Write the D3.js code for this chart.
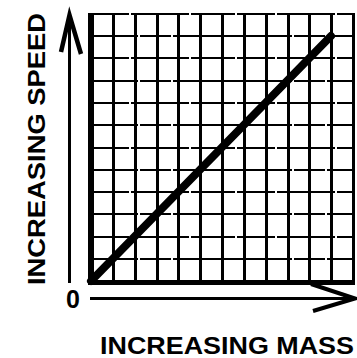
<!DOCTYPE html>
<html>
<head>
<meta charset="utf-8">
<script src="https://cdn.jsdelivr.net/npm/d3@7/dist/d3.min.js"></script>
<style>
  html, body { margin: 0; padding: 0; background: #fff; }
  svg { display: block; }
</style>
</head>
<body>
<svg id="chart" width="357" height="358"></svg>
<script>
// ---- data ----
const gridSteps = [0, 1, 2, 3, 4, 5, 6, 7, 8, 9, 10, 11, 12];
const massValues = [0, 11];
const speedValues = [0, 11];
const xAxisTitle = "INCREASING MASS";
const yAxisTitle = "INCREASING SPEED";
const originLabel = "0";

// ---- setup ----
const svg = d3.select("#chart");
const ink = "#000";
const font = "'Liberation Sans', Arial, Helvetica, sans-serif";

const x = d3.scaleLinear().domain([0, 12]).range([91, 353]).interpolate(d3.interpolateRound);
const y = d3.scaleLinear().domain([0, 12]).range([281, 14]).interpolate(d3.interpolateRound);

const grid = svg.append("g").attr("shape-rendering", "crispEdges");

// horizontal grid lines (slightly broken look)
grid.selectAll("line.h").data(gridSteps.slice(1)).join("line")
  .attr("class", "h")
  .attr("x1", x(0)).attr("x2", x(12))
  .attr("y1", d => y(d)).attr("y2", d => y(d))
  .attr("stroke", ink).attr("stroke-width", 2)
  .attr("stroke-dasharray", d => d % 2 ? "47,2,31,2,70,2" : "38,2,58,2,44,2");

// vertical grid lines
grid.selectAll("line.v").data(gridSteps.slice(1)).join("line")
  .attr("class", "v")
  .attr("x1", d => x(d) + 0.5).attr("x2", d => x(d) + 0.5)
  .attr("y1", y(12) - 1).attr("y2", y(0))
  .attr("stroke", ink).attr("stroke-width", 3);

// thick left and bottom borders
grid.append("line")
  .attr("x1", x(0)).attr("x2", x(0))
  .attr("y1", y(12) - 1).attr("y2", y(0) + 3)
  .attr("stroke", ink).attr("stroke-width", 6);
grid.append("line")
  .attr("x1", x(0) - 3).attr("x2", x(12) + 2)
  .attr("y1", y(0) + 1.5).attr("y2", y(0) + 1.5)
  .attr("stroke", ink).attr("stroke-width", 5);

// data line
const pts = massValues.map((m, i) => [m, speedValues[i]]);
svg.append("path")
  .datum(pts)
  .attr("d", d3.line().x(d => x(d[0])).y(d => y(d[1])))
  .attr("fill", "none").attr("stroke", ink)
  .attr("stroke-width", 8).attr("stroke-linecap", "round");

// y axis arrow
const yAx = 69.5;
svg.append("line")
  .attr("x1", yAx).attr("x2", yAx)
  .attr("y1", y(0) + 2).attr("y2", 17)
  .attr("stroke", ink).attr("stroke-width", 3);
svg.append("path")
  .attr("d", d3.line()([[61, 52], [yAx, 15], [81, 54]]))
  .attr("fill", "none").attr("stroke", ink)
  .attr("stroke-width", 4.5).attr("stroke-linejoin", "miter");

// x axis arrow
const xAy = 298.5;
svg.append("line")
  .attr("x1", x(0) - 1).attr("x2", 352)
  .attr("y1", xAy).attr("y2", xAy)
  .attr("stroke", ink).attr("stroke-width", 3);
svg.append("path")
  .attr("d", d3.line()([[311, 284], [355, xAy], [313, 311]]))
  .attr("fill", "none").attr("stroke", ink)
  .attr("stroke-width", 4).attr("stroke-linejoin", "miter");

// labels
svg.append("text")
  .attr("x", 73).attr("y", 308)
  .attr("text-anchor", "middle")
  .attr("font-family", font).attr("font-weight", "bold")
  .attr("font-size", 25).attr("fill", ink)
  .text(originLabel);

svg.append("text")
  .attr("x", 100).attr("y", 354)
  .attr("textLength", 254).attr("lengthAdjust", "spacingAndGlyphs")
  .attr("font-family", font).attr("font-weight", "bold")
  .attr("font-size", 23).attr("fill", ink)
  .text(xAxisTitle);

svg.append("text")
  .attr("transform", "translate(45,149) rotate(-90)")
  .attr("text-anchor", "middle")
  .attr("textLength", 272).attr("lengthAdjust", "spacingAndGlyphs")
  .attr("font-family", font).attr("font-weight", "bold")
  .attr("font-size", 23).attr("fill", ink)
  .text(yAxisTitle);
</script>
</body>
</html>
